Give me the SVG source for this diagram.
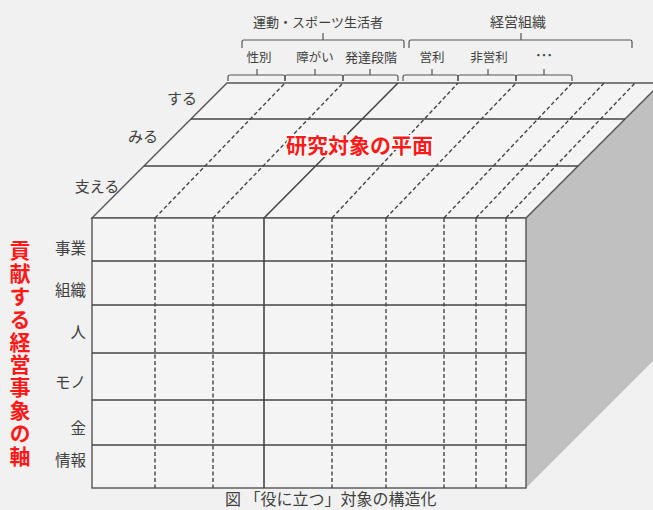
<svg xmlns="http://www.w3.org/2000/svg" width="653" height="510" viewBox="0 0 653 510">
<style>
.t{font-family:"Noto Sans CJK JP","Noto Sans",sans-serif;fill:#404040}
.s{stroke:#454545;stroke-width:1.6;fill:none}
.d{stroke:#454545;stroke-width:1.4;fill:none;stroke-dasharray:4 2.5}
.b{stroke:#555;stroke-width:1.2;fill:none}
.r{font-family:"Noto Sans CJK JP","Noto Sans",sans-serif;fill:#ff1a1a;font-weight:bold}
</style>
<rect width="653" height="510" fill="#f1f1f1"/>
<g id="cube">
<polygon points="526,218 661,83 661,353 526,488" fill="#c0c0c0"/>
<polygon points="92,218 227,83 661,83 526,218" fill="#f4f4f4" stroke="#555" stroke-width="1.4"/>
<rect x="92" y="218" width="434" height="270" fill="#f4f4f4" stroke="#555" stroke-width="1.4"/>
</g>
<g id="connectors">
<g id="top-lines">
<line class="s" x1="191" y1="119" x2="625" y2="119"/>
<line class="s" x1="144" y1="166" x2="578" y2="166"/>
<line class="d" x1="155" y1="218" x2="285" y2="83"/>
<line class="d" x1="213" y1="218" x2="343" y2="83"/>
<line class="s" x1="264" y1="218" x2="398" y2="83"/>
<line class="d" x1="332" y1="218" x2="458" y2="83"/>
<line class="d" x1="386" y1="218" x2="516" y2="83"/>
<line class="d" x1="444" y1="218" x2="572" y2="83"/>
<line class="d" x1="476" y1="218" x2="604" y2="83"/>
<line class="d" x1="506" y1="218" x2="635" y2="83"/>
</g>
<g id="front-lines">
<line class="s" x1="92" y1="261" x2="526" y2="261"/>
<line class="s" x1="92" y1="305" x2="526" y2="305"/>
<line class="s" x1="92" y1="353" x2="526" y2="353"/>
<line class="s" x1="92" y1="400" x2="526" y2="400"/>
<line class="s" x1="92" y1="445" x2="526" y2="445"/>
<line class="d" x1="155" y1="218" x2="155" y2="488"/>
<line class="d" x1="213" y1="218" x2="213" y2="488"/>
<line class="s" x1="264" y1="218" x2="264" y2="488"/>
<line class="d" x1="332" y1="218" x2="332" y2="488"/>
<line class="d" x1="386" y1="218" x2="386" y2="488"/>
<line class="d" x1="444" y1="218" x2="444" y2="488"/>
<line class="d" x1="476" y1="218" x2="476" y2="488"/>
<line class="d" x1="506" y1="218" x2="506" y2="488"/>
</g>
<g id="brackets">
<path class="b" d="M242,48 L242,42 Q242,40 244,40 L402,40 Q404,40 404,42 L404,48 M323,40 L323,33"/>
<path class="b" d="M409,48 L409,42 Q409,40 411,40 L630,40 Q632,40 632,42 L632,48 M521,40 L521,33"/>
<path class="b" d="M228,81 L228,77 Q228,75 230,75 L283,75 Q285,75 285,77 L285,81 M257,75 L257,69"/>
<path class="b" d="M285,81 L285,77 Q285,75 287,75 L341,75 Q343,75 343,77 L343,81 M315,75 L315,69"/>
<path class="b" d="M343,81 L343,77 Q343,75 345,75 L396,75 Q398,75 398,77 L398,81 M370,75 L370,69"/>
<path class="b" d="M403,81 L403,77 Q403,75 405,75 L456,75 Q458,75 458,77 L458,81 M432,75 L432,69"/>
<path class="b" d="M458,81 L458,77 Q458,75 460,75 L514,75 Q516,75 516,77 L516,81 M488,75 L488,69"/>
<path class="b" d="M516,81 L516,77 Q516,75 518,75 L570,75 Q572,75 572,77 L572,81 M544,75 L544,69"/>
</g>
</g>
<g id="top-labels" text-anchor="middle">
<text class="t" x="318" y="27" font-size="13" textLength="130" lengthAdjust="spacingAndGlyphs">運動・スポーツ生活者</text>
<text class="t" x="518" y="27" font-size="14">経営組織</text>
<text class="t" x="259" y="62" font-size="12.5">性別</text>
<text class="t" x="315" y="62" font-size="12.5">障がい</text>
<text class="t" x="371" y="62" font-size="13">発達段階</text>
<text class="t" x="432" y="62" font-size="12.5">営利</text>
<text class="t" x="489" y="62" font-size="12.5">非営利</text>
<text class="t" x="544" y="62" font-size="17">…</text>
</g>
<g id="depth-labels" text-anchor="middle">
<text class="t" x="182" y="104" font-size="15">する</text>
<text class="t" x="143" y="142" font-size="15">みる</text>
<text class="t" x="97" y="192" font-size="15">支える</text>
</g>
<g id="row-labels" text-anchor="end">
<text class="t" x="86" y="254" font-size="15.5">事業</text>
<text class="t" x="86" y="296" font-size="15.5">組織</text>
<text class="t" x="86" y="338" font-size="15.5">人</text>
<text class="t" x="86" y="388" font-size="15.5">モノ</text>
<text class="t" x="86" y="434" font-size="15.5">金</text>
<text class="t" x="86" y="466" font-size="15.5">情報</text>
</g>
<g id="plane-label">
<text class="r" x="359.5" y="153" font-size="21" text-anchor="middle" stroke="#ffffff" stroke-width="3" paint-order="stroke" stroke-linejoin="round">研究対象の平面</text>
</g>
<g id="axis-label">
<text class="r" x="20" y="240" font-size="21" letter-spacing="1.8" style="writing-mode:vertical-rl">貢献する経営事象の軸</text>
</g>
<g id="caption">
<text class="t" x="225" y="505" font-size="16">図 「役に立つ」対象の構造化</text>
</g>
</svg>
